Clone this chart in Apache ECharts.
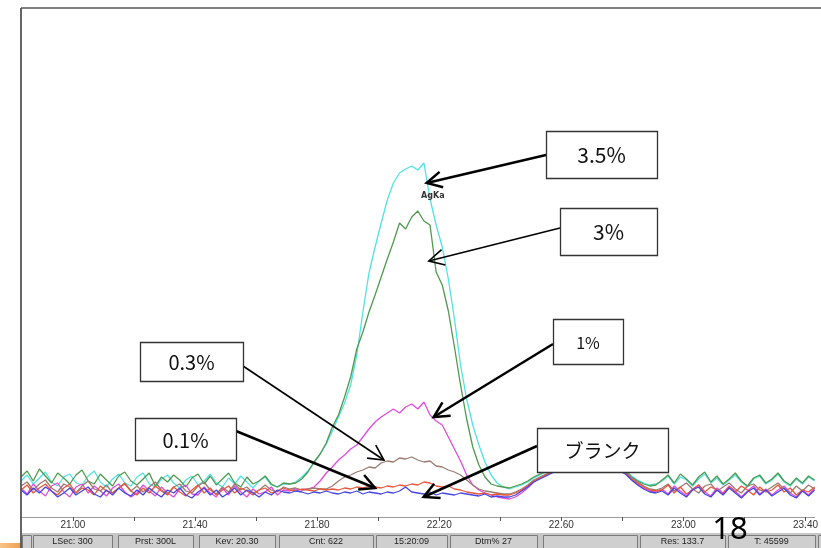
<!DOCTYPE html>
<html>
<head>
<meta charset="utf-8">
<script src="https://cdn.jsdelivr.net/npm/echarts@6/dist/echarts.min.js"></script>
<style>
  html, body { margin: 0; padding: 0; background: #ffffff; }
  #chart { width: 821px; height: 548px; }
</style>
</head>
<body>
<div id="chart"></div>
<script>
// Energy channels (keV): one channel every 0.02 keV
const energyStart = 20.83;
const energyStep = 0.02;
const energyMax = 23.43;

// Axis ticks and labels (keV)
const tickValues = [21.0, 21.2, 21.4, 21.6, 21.8, 22.0, 22.2, 22.4, 22.6, 22.8, 23.0, 23.2, 23.4];
const labelValues = [21.0, 21.4, 21.8, 22.2, 22.6, 23.0, 23.4];

// Series names (Ag concentration) and colours
const seriesNames = ['3.5%', '3%', '1%', '0.3%', '0.1%', 'ブランク'];
const seriesColors = ['#52e2e2', '#4f9a4f', '#e04ce0', '#9c7c70', '#e8583c', '#4848e0'];

// Counts per channel
const counts35 = [
  36,42,33,39,45,35,31,40,43,34, 32,41,46,35,30,38,43,34,31,40,
  44,33,30,38,42,34,29,37,41,32, 36,43,34,30,39,33,41,35,29,36,
  40,32,30,33,
  33,35,40,46,54,63,73,86,100,114, 132,162,205,244,270,294,317,334,344,348,
  351,347,354,318,292,270,238,198,152,118, 92,72,55,42,34,30,
  28,30,32,35,39,42,45,48,50,52, 53,55,56,57,56,55,54,52,50,47,
  41,37,34,32,33,
  36,41,33,40,37,31,38,43,34,39, 32,37,42,35,30,38,41,33,37,43,
  35,31,38,33,40,36
];
const counts3 = [
  40,46,36,48,41,34,44,39,33,42, 47,36,33,43,37,31,41,45,36,32,
  38,44,31,40,35,42,37,30,39,43, 33,41,32,38,44,34,30,40,33,36,
  41,33,30,34,
  33,34,38,45,55,63,74,90,102,120, 140,168,185,205,222,240,258,275,294,288,
  300,306,296,292,245,232,206,170,132,98, 70,52,40,33,31,30,
  29,31,33,36,40,43,46,48,50,51, 53,54,55,56,55,54,53,51,49,46,
  40,36,33,31,32,
  37,42,34,43,38,32,40,45,35,41, 33,38,44,36,31,39,42,34,38,44,
  36,32,39,34,41,37
];
const counts1 = [
  29,23,33,26,21,31,34,25,20,30, 33,24,31,26,21,29,33,25,20,24,
  32,26,21,30,24,20,28,32,23,22, 30,24,20,29,22,31,25,20,28,23,
  25,30,22,27,
  26,28,27,28,30,36,44,50,57,62, 68,72,80,88,95,100,104,108,104,110,
  113,108,115,102,96,92,80,68,56,42, 32,27,24,22,20,19,
  18,20,24,29,35,39,42,45,47,49, 51,52,54,55,54,53,52,50,47,44,
  38,33,29,26,25,
  28,23,31,26,21,28,32,25,21,29, 24,31,26,20,26,31,23,28,22,27,
  31,24,20,27,22,29
];
const counts03 = [
  31,35,27,33,37,29,25,33,30,24, 31,36,28,26,32,24,29,34,26,31,
  25,30,35,27,23,30,33,26,24,31, 35,27,23,30,25,33,27,30,24,27,
  32,27,25,30,
  28,29,27,28,29,28,28,31,36,40, 42,45,47,50,49,54,56,55,59,58,
  60,57,55,56,51,50,47,45,42,37, 32,28,26,25,24,23,
  23,25,28,32,37,40,43,46,48,50, 52,53,55,56,55,54,52,50,48,45,
  39,35,31,28,27,
  29,33,26,30,34,28,24,31,33,26, 30,34,28,24,31,33,27,26,30,34,
  28,24,31,26,32,28
];
const counts01 = [
  27,32,24,29,33,26,22,29,33,24, 29,27,22,31,26,24,29,33,26,22,
  29,24,31,26,22,30,25,21,27,32, 24,29,22,27,31,24,29,26,22,27,
  29,24,26,29,
  27,26,28,27,26,28,27,28,27,29, 28,30,29,31,30,29,31,30,32,31,
  33,32,35,34,31,30,31,28,27,25, 24,23,24,22,23,22,
  22,24,27,31,36,39,42,45,47,49, 51,52,54,55,54,53,51,49,47,44,
  38,34,30,27,26,
  27,32,24,30,23,27,32,25,30,27, 23,30,25,31,27,22,30,25,27,32,
  25,29,22,27,25,30
];
const countsBlank = [
  27,22,29,24,30,26,20,24,29,22, 26,30,23,20,27,22,29,24,21,27,
  22,29,24,20,27,24,29,22,19,25, 29,22,27,20,24,29,22,27,24,20,
  25,22,27,25,
  24,26,25,23,25,24,26,24,23,25, 24,26,23,25,24,23,25,24,26,30,
  25,24,23,25,22,24,23,22,24,23, 22,21,23,20,21,20,
  20,22,26,30,35,38,41,44,46,48, 50,51,53,54,53,52,50,48,46,43,
  37,32,28,25,24,
  26,22,29,24,20,27,30,23,20,27, 22,29,24,19,25,29,22,27,21,25,
  29,22,19,26,21,27
];
const seriesCounts = [counts35, counts3, counts1, counts03, counts01, countsBlank];

// Status bar fields
const statusFields = ['', 'LSec: 300', 'Prst: 300L', 'Kev: 20.30', 'Cnt: 622', '15:20:09',
                      'Dtm% 27', '', 'Res: 133.7', 'T: 45599', ''];

// Callouts: label, arrow tip in (keV, counts)
const calloutLabels = ['3.5%', '3%', '1%', '0.3%', '0.1%', 'ブランク'];
const calloutTips = [[22.159, 334], [22.166, 256], [22.182, 100], [22.019, 57], [21.990, 29], [22.149, 20]];
const peakLabel = 'AgKa';
const peakLabelPos = [22.179, 321];
const pageNumber = '18';

const chart = echarts.init(document.getElementById('chart'), null, { renderer: 'canvas' });

function toPairs(values) {
  return values.map((v, i) => [+(energyStart + i * energyStep).toFixed(2), v]);
}

const series = seriesCounts.map((vals, k) => ({
  name: seriesNames[k],
  type: 'line',
  data: toPairs(vals),
  showSymbol: false,
  symbol: 'none',
  silent: true,
  lineStyle: { color: seriesColors[k], width: 1.3 },
  z: 2 + k
}));

chart.setOption({
  animation: false,
  backgroundColor: '#ffffff',
  grid: { left: 21, right: 0, top: 17, bottom: 31, containLabel: false },
  xAxis: {
    type: 'value',
    min: energyStart,
    max: energyMax,
    splitLine: { show: false },
    axisLine: { show: true, lineStyle: { color: '#9c9c9c', width: 1.2 } },
    axisTick: { show: true, customValues: tickValues, length: 4, inside: false,
                lineStyle: { color: '#555', width: 1 } },
    axisLabel: {
      customValues: labelValues,
      formatter: v => v.toFixed(2),
      color: '#333',
      fontSize: 10,
      fontFamily: 'Liberation Sans',
      margin: 3
    }
  },
  yAxis: { type: 'value', min: 0, max: 500, show: false },
  series: series
});

// Decorations: frame, status bar, callouts
const W = 821, H = 548;
const g = [];

// orange slide strip at bottom-left
g.push({ type: 'rect', shape: { x: 0, y: 543, width: 21, height: 5 },
  style: { fill: new echarts.graphic.LinearGradient(0, 0, 1, 0,
    [{ offset: 0, color: '#f7c48a' }, { offset: 1, color: '#f0a050' }]) }, z: 50 });

// status bar
g.push({ type: 'rect', shape: { x: 21, y: 533, width: W - 21, height: 15 },
  style: { fill: '#c6c6c6' }, z: 50 });
const statusBoxes = [[22, 9], [33, 79], [118, 75], [199, 76], [279, 94], [376, 71],
                     [450, 87], [543, 94], [640, 85], [728, 87], [818, 10]];
statusBoxes.forEach((b, i) => {
  g.push({ type: 'rect', shape: { x: b[0] + 0.5, y: 535.5, width: b[1], height: 13 },
    style: { fill: '#cfcfcf', stroke: '#7a7a7a', lineWidth: 1 }, z: 51 });
  if (statusFields[i]) {
    g.push({ type: 'text', x: b[0] + b[1] / 2, y: 542,
      style: { text: statusFields[i], fill: '#222', font: '9px "Liberation Sans"',
               align: 'center', verticalAlign: 'middle' }, z: 52 });
  }
});

// frame
g.push({ type: 'line', shape: { x1: 21, y1: 8, x2: W, y2: 8 },
  style: { stroke: '#555', lineWidth: 1.6 }, z: 60 });
g.push({ type: 'line', shape: { x1: 21, y1: 8, x2: 21, y2: H },
  style: { stroke: '#555', lineWidth: 1.8 }, z: 60 });

// page number
g.push({ type: 'text', x: 730, y: 530,
  style: { text: pageNumber, fill: '#000', font: '31px "Noto Sans"',
           align: 'center', verticalAlign: 'middle' }, z: 70 });

// callout boxes (x, y, w, h), arrow start, stroke width, font size
const calloutLayout = [
  { box: [546, 131, 111, 47], from: [546, 155], lw: 2.5, fs: 21 },
  { box: [560, 208, 97, 47],  from: [560, 228], lw: 1.6, fs: 21 },
  { box: [553, 319, 70, 45],  from: [553, 344], lw: 2.5, fs: 16 },
  { box: [140, 342, 103, 39], from: [243, 366], lw: 1.6, fs: 20 },
  { box: [135, 418, 101, 42], from: [236, 431], lw: 2.5, fs: 20 },
  { box: [537, 428, 131, 44], from: [537, 446], lw: 2.5, fs: 19 }
];

function arrow(x1, y1, x2, y2, lw) {
  const ang = Math.atan2(y2 - y1, x2 - x1);
  const L = 17, a = 0.48;
  const p1 = [x2 - L * Math.cos(ang - a), y2 - L * Math.sin(ang - a)];
  const p2 = [x2 - L * Math.cos(ang + a), y2 - L * Math.sin(ang + a)];
  return [
    { type: 'line', shape: { x1, y1, x2, y2 }, style: { stroke: '#000', lineWidth: lw }, z: 90 },
    { type: 'polyline', shape: { points: [p1, [x2, y2], p2] },
      style: { stroke: '#000', fill: null, lineWidth: lw, lineJoin: 'miter' }, z: 90 }
  ];
}

calloutLayout.forEach((c, i) => {
  const tip = chart.convertToPixel({ gridIndex: 0 }, calloutTips[i]);
  arrow(c.from[0], c.from[1], tip[0], tip[1], c.lw).forEach(e => g.push(e));
  const [bx, by, bw, bh] = c.box;
  g.push({ type: 'rect', shape: { x: bx + 0.5, y: by + 0.5, width: bw, height: bh },
    style: { fill: '#ffffff', stroke: '#333', lineWidth: 1.3 }, z: 95 });
  g.push({ type: 'text', x: bx + bw / 2, y: by + bh / 2 + 1,
    style: { text: calloutLabels[i], fill: '#111',
             font: c.fs + 'px "Noto Sans CJK JP"', align: 'center', verticalAlign: 'middle' }, z: 96 });
});

// peak label
const pl = chart.convertToPixel({ gridIndex: 0 }, peakLabelPos);
g.push({ type: 'text', x: pl[0], y: pl[1],
  style: { text: peakLabel, fill: '#333', font: 'bold 8px "DejaVu Sans"',
           align: 'center', verticalAlign: 'middle' }, z: 80 });

chart.setOption({ graphic: g });
</script>
</body>
</html>
